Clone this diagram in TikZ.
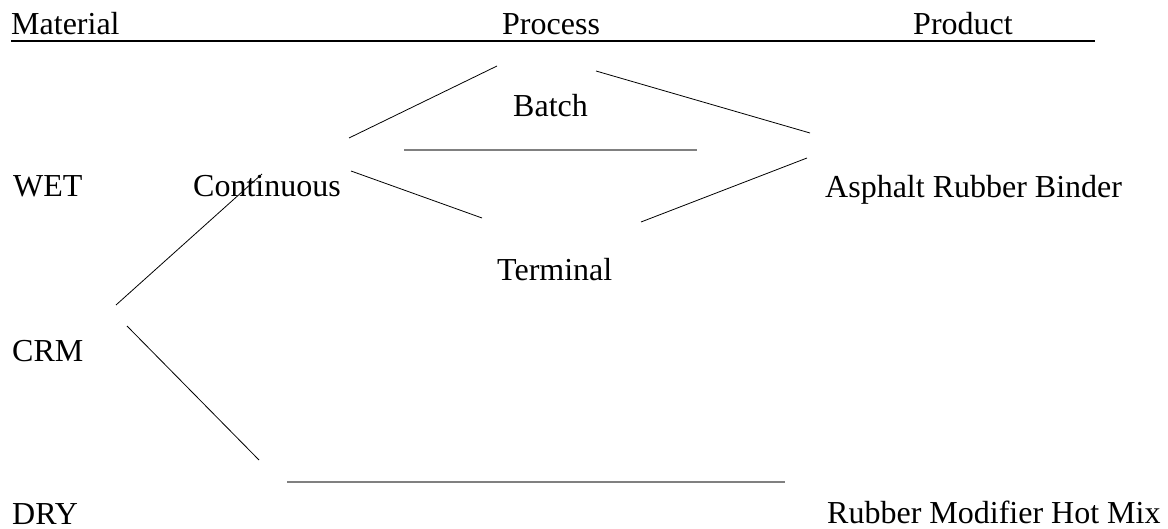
\documentclass[tikz,border=0pt]{standalone}
\usepackage{fontspec}
\setmainfont{Liberation Serif}
\begin{document}
\begin{tikzpicture}[x=1pt,y=-1pt,
  lbl/.style={anchor=base west,inner sep=0pt,font=\fontsize{32}{38}\selectfont},
  thinline/.style={draw=black,line width=0.8pt},
  grayline/.style={draw=black!50,line width=1.4pt},
  headline/.style={draw=black,line width=2pt}]
\useasboundingbox[fill=white] (0,0) rectangle (1168,529);
% header
\node[lbl] (material) at (11,35) {Material};
\node[lbl] (process) at (502,35) {Process};
\node[lbl] (product) at (913,35) {Product};
\coordinate (h1) at (11,41);
\coordinate (h2) at (1095,41);
\draw[headline] (h1) -- (h2);
% labels
\node[lbl] (batch) at (513,117) {Batch};
\node[lbl] (wet) at (13,197) {WET};
\node[lbl] (cont) at (193,197) {Continuous};
\node[lbl] (arb) at (825,198) {Asphalt Rubber Binder};
\node[lbl] (term) at (497,281) {Terminal};
\node[lbl] (crm) at (12,362) {CRM};
\node[lbl] (dry) at (12,524) {DRY};
\node[lbl] (rmhm) at (827,523) {Rubber Modifier Hot Mix};
% connector end points
\coordinate (a1) at (349,138); \coordinate (a2) at (497,66);
\coordinate (b1) at (596,71);  \coordinate (b2) at (810,133);
\coordinate (c1) at (404,150); \coordinate (c2) at (697,150);
\coordinate (d1) at (351,171); \coordinate (d2) at (482,218);
\coordinate (e1) at (641,222); \coordinate (e2) at (807,158);
\coordinate (f1) at (116,305); \coordinate (f2) at (262,174);
\coordinate (g1) at (127,326); \coordinate (g2) at (259,460);
\coordinate (k1) at (287,482); \coordinate (k2) at (785,482);
% connectors
\draw[thinline] (a1) -- (a2);
\draw[thinline] (b1) -- (b2);
\draw[grayline] (c1) -- (c2);
\draw[thinline] (d1) -- (d2);
\draw[thinline] (e1) -- (e2);
\draw[thinline] (f1) -- (f2);
\draw[thinline] (g1) -- (g2);
\draw[grayline] (k1) -- (k2);
\end{tikzpicture}
\end{document}
